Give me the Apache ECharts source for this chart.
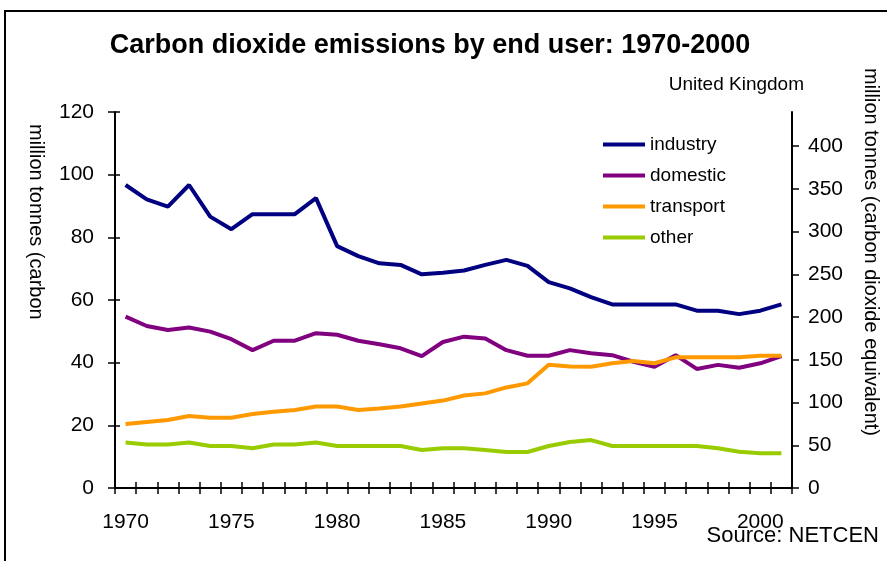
<!DOCTYPE html>
<html>
<head>
<meta charset="utf-8">
<script src="https://cdn.jsdelivr.net/npm/echarts@6/dist/echarts.min.js"></script>
<style>html,body{margin:0;padding:0;background:#fff}#c{width:887px;height:561px}</style>
</head>
<body>
<div id="c"></div>
<script>
const years = ['1970','1971','1972','1973','1974','1975','1976','1977','1978','1979','1980','1981','1982','1983','1984','1985','1986','1987','1988','1989','1990','1991','1992','1993','1994','1995','1996','1997','1998','1999','2000','2001'];
const industry = [96.7,92.1,89.8,96.7,86.6,82.6,87.4,87.4,87.4,92.5,77.2,74.0,71.7,71.2,68.2,68.7,69.4,71.2,72.8,70.9,65.7,63.7,60.9,58.6,58.6,58.6,58.6,56.6,56.6,55.5,56.6,58.6];
const domestic = [54.7,51.7,50.4,51.2,49.9,47.5,44.0,47.0,47.0,49.4,48.9,47.0,45.9,44.6,42.1,46.6,48.3,47.7,44.0,42.2,42.2,44.0,43.0,42.4,40.3,38.7,42.4,38.0,39.3,38.4,39.8,42.1];
const transport = [20.4,21.1,21.7,23.0,22.4,22.4,23.6,24.3,24.9,26.0,26.0,24.9,25.4,26.0,27.0,27.9,29.5,30.2,32.1,33.4,39.3,38.8,38.7,39.8,40.5,39.8,41.7,41.7,41.7,41.7,42.2,42.2];
const other = [14.5,13.9,13.9,14.5,13.4,13.4,12.7,13.9,13.9,14.5,13.4,13.4,13.4,13.4,12.1,12.7,12.7,12.1,11.5,11.5,13.4,14.7,15.3,13.4,13.4,13.4,13.4,13.4,12.7,11.6,11.1,11.1];
const seriesNames = ['industry','domestic','transport','other'];
const seriesColors = ['#000080','#800080','#FF9900','#99CC00'];

const FONT = 'Liberation Sans, Arial, sans-serif';
const chart = echarts.init(document.getElementById('c'));
const dataSets = [industry, domestic, transport, other];

chart.setOption({
  animation: false,
  backgroundColor: '#ffffff',
  textStyle: { fontFamily: FONT },
  grid: { left: 115, right: 95, top: 112, bottom: 73 },
  legend: {
    orient: 'vertical', left: 598, top: 130,
    itemWidth: 42, itemHeight: 4, itemGap: 12, icon: 'rect',
    textStyle: { fontSize: 19, color: '#000', fontFamily: FONT },
    data: seriesNames
  },
  xAxis: [{
    type: 'category', data: years, boundaryGap: true,
    axisLine: { lineStyle: { color: '#000', width: 2 } },
    axisTick: { show: true, length: 6, interval: 0, lineStyle: { color: '#000', width: 1.5 } },
    axisLabel: { interval: 4, margin: 24, fontSize: 21, color: '#000', fontFamily: FONT },
    splitLine: { show: false }
  }, {
    type: 'category', data: years, boundaryGap: true, position: 'bottom',
    axisLine: { show: false },
    axisTick: { show: true, inside: true, length: 6, interval: 0, lineStyle: { color: '#000', width: 1.5 } },
    axisLabel: { show: false }
  }],
  yAxis: [{
    type: 'value', min: 0, max: 120, interval: 20, position: 'left',
    axisLine: { show: true, lineStyle: { color: '#000', width: 2 } },
    axisTick: { show: true, length: 7, lineStyle: { color: '#000', width: 1.5 } },
    axisLabel: { margin: 21, fontSize: 21, color: '#000', fontFamily: FONT },
    splitLine: { show: false }
  }, {
    type: 'value', min: 0, max: 440, interval: 50, position: 'right',
    axisLine: { show: true, lineStyle: { color: '#000', width: 2 } },
    axisTick: { show: true, length: 7, lineStyle: { color: '#000', width: 1.5 } },
    axisLabel: { margin: 16, fontSize: 21, color: '#000', fontFamily: FONT, showMaxLabel: false },
    splitLine: { show: false }
  }, {
    type: 'value', min: 0, max: 120, interval: 20, position: 'left',
    axisLine: { show: false },
    axisTick: { show: true, inside: true, length: 5, lineStyle: { color: '#000', width: 1.5 } },
    axisLabel: { show: false }, splitLine: { show: false }
  }],
  series: seriesNames.map((n, i) => ({
    name: n, type: 'line', data: dataSets[i], yAxisIndex: 0,
    symbol: 'none', color: seriesColors[i],
    lineStyle: { width: 4, color: seriesColors[i] }
  })),
  graphic: [
    { type: 'rect', shape: { x: 5, y: 11, width: 900, height: 600 }, style: { fill: 'none', stroke: '#000', lineWidth: 2 }, silent: true },
    { type: 'text', x: 430, y: 32, style: { text: 'Carbon dioxide emissions by end user: 1970-2000', font: 'bold 27px ' + FONT, fill: '#000', align: 'center' } },
    { type: 'text', x: 804, y: 75, style: { text: 'United Kingdom', font: '19px ' + FONT, fill: '#000', align: 'right' } },
    { type: 'text', x: 46, y: 124, rotation: -Math.PI / 2, style: { text: 'million tonnes (carbon', font: '20px ' + FONT, fill: '#000' } },
    { type: 'text', x: 881, y: 68, rotation: -Math.PI / 2, style: { text: 'million tonnes (carbon dioxide equivalent)', font: '20px ' + FONT, fill: '#000' } },
    { type: 'text', x: 879, y: 525, style: { text: 'Source: NETCEN', font: '22px ' + FONT, fill: '#000', align: 'right' } }
  ]
});
</script>
</body>
</html>
